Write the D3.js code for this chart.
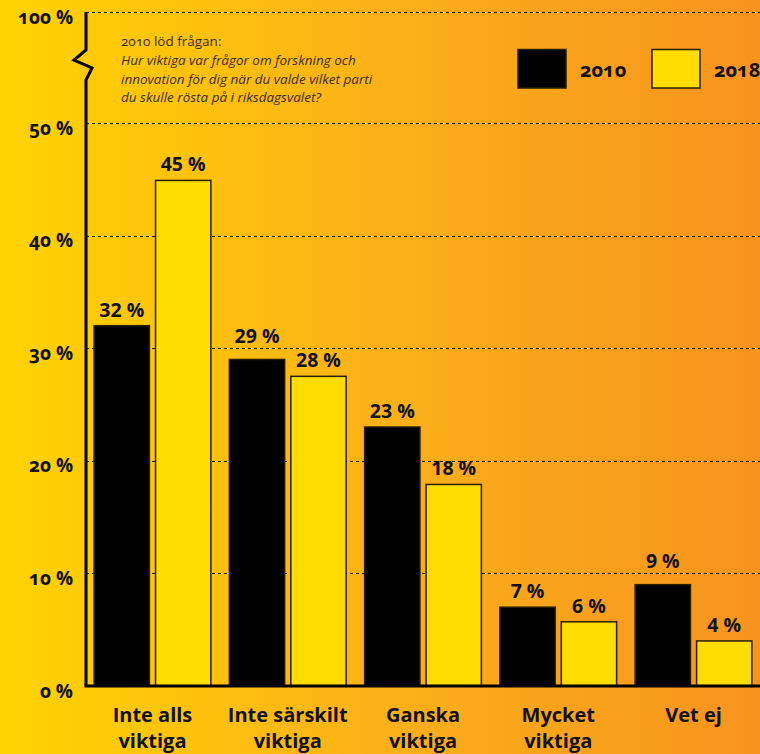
<!DOCTYPE html>
<html>
<head>
<meta charset="utf-8">
<script src="https://cdn.jsdelivr.net/npm/d3@7"></script>
<style>
  html, body { margin: 0; padding: 0; background: #fff; }
  svg { display: block; }
  text { font-family: "Open Sans", "Noto Sans", sans-serif; }
</style>
</head>
<body>
<svg id="chart" width="760" height="754"></svg>
<script>
// ---- data ----
const categories = [["Inte alls", "viktiga"], ["Inte särskilt", "viktiga"], ["Ganska", "viktiga"], ["Mycket", "viktiga"], ["Vet ej"]];
const seriesNames = ["2010", "2018"];
const values2010 = [32, 29, 23, 7, 9];
const values2018 = [44.9, 27.5, 17.9, 5.7, 4];
const yTicks = [0, 10, 20, 30, 40, 50, 100];
const gridTicks = [10, 20, 30, 40, 50, 100];
const noteTitle = "2010 löd frågan:";
const noteLines = ["Hur viktiga var frågor om forskning och", "innovation för dig när du valde vilket parti", "du skulle rösta på i riksdagsvalet?"];

const W = 760, H = 754;
const svg = d3.select("#chart");

// background gradient
const defs = svg.append("defs");
const grad = defs.append("linearGradient").attr("id", "bg").attr("x1", "0").attr("x2", "1").attr("y1", "0").attr("y2", "0");
grad.append("stop").attr("offset", "0").attr("stop-color", "#FFD300");
grad.append("stop").attr("offset", "0.5").attr("stop-color", "#FBB118");
grad.append("stop").attr("offset", "1").attr("stop-color", "#F7931E");
svg.append("rect").attr("width", W).attr("height", H).attr("fill", "url(#bg)");

const left = 86, right = 760, bottom = 686;
const catKeys = categories.map(c => c.join(" "));

// broken (polylinear) y scale
const y = d3.scaleLinear().domain([0, 50, 100]).range([bottom, 123, 12]);
const x0 = d3.scaleBand().domain(catKeys).range([left, right]).paddingInner(0.137).paddingOuter(0.06);
const x1 = d3.scaleBand().domain(seriesNames).range([0, x0.bandwidth()]).paddingInner(0.1);
const color = d3.scaleOrdinal().domain(seriesNames).range(["#000000", "#FFDD00"]);

// gridlines
svg.append("g").selectAll("line").data(gridTicks).join("line")
  .attr("x1", left).attr("x2", right)
  .attr("y1", d => Math.round(y(d)) + 0.5).attr("y2", d => Math.round(y(d)) + 0.5)
  .attr("stroke", "#1a1000").attr("stroke-width", 1).attr("stroke-dasharray", "3,3");

// y tick labels
svg.append("g").selectAll("text").data(yTicks).join("text")
  .attr("x", 73).attr("y", d => y(d) + 11.5)
  .attr("text-anchor", "end")
  .attr("font-size", 19).attr("font-weight", 700).attr("fill", "#111")
  .style("font-variant-numeric", "oldstyle-nums")
  .text(d => d + " %");

// bars
const data = catKeys.map((k, i) => ({ key: k, vals: [{ s: "2010", v: values2010[i] }, { s: "2018", v: values2018[i] }] }));
const groups = svg.append("g").selectAll("g").data(data).join("g")
  .attr("transform", d => `translate(${x0(d.key)},0)`);
groups.selectAll("rect").data(d => d.vals).join("rect")
  .attr("x", d => x1(d.s)).attr("width", x1.bandwidth())
  .attr("y", d => y(d.v)).attr("height", d => bottom - y(d.v))
  .attr("fill", d => color(d.s))
  .attr("stroke", "#2a1e00").attr("stroke-width", 1.5);

// value labels, lifted above a gridline when they would sit on it
function labelY(v) {
  let ly = y(v) - 9;
  gridTicks.forEach(g => {
    const gy = y(g);
    if (gy > ly - 12 && gy < ly + 2) ly = gy - 5.5;
  });
  return ly;
}
groups.selectAll("text").data(d => d.vals).join("text")
  .attr("x", d => x1(d.s) + x1.bandwidth() / 2)
  .attr("y", d => labelY(d.v))
  .attr("text-anchor", "middle")
  .attr("font-size", 19.5).attr("font-weight", 700).attr("fill", "#111")
  .text(d => Math.round(d.v) + " %");

// axes lines
const axis = svg.append("g").attr("stroke", "#000").attr("stroke-width", 3).attr("fill", "none");
axis.append("path").attr("d", d3.line()([[left, y(100)], [left, 50], [74, 60], [92, 68], [left, 80], [left, bottom]]))
  .attr("stroke-linejoin", "miter");
axis.append("line").attr("x1", left - 1.5).attr("x2", right).attr("y1", bottom).attr("y2", bottom);

// category labels
svg.append("g").selectAll("text").data(categories).join("text")
  .attr("x", (d, i) => x0(catKeys[i]) + x0.bandwidth() / 2)
  .attr("y", 722)
  .attr("text-anchor", "middle")
  .attr("font-size", 20).attr("font-weight", 700).attr("fill", "#111")
  .each(function(d) {
    const t = d3.select(this);
    d.forEach((line, j) => {
      t.append("tspan").attr("x", t.attr("x")).attr("dy", j === 0 ? 0 : 26).text(line);
    });
  });

// legend
const legend = svg.append("g");
const legX = [518, 652];
seriesNames.forEach((s, i) => {
  legend.append("rect").attr("x", legX[i]).attr("y", 49.5).attr("width", 48).attr("height", 38.5)
    .attr("fill", color(s)).attr("stroke", "#2a1e00").attr("stroke-width", 1.5);
  legend.append("text").attr("x", legX[i] + 62).attr("y", 77)
    .attr("font-size", 20).attr("font-weight", 700).attr("fill", "#111")
    .style("font-variant-numeric", "oldstyle-nums")
    .text(s);
});

// note
const note = svg.append("g").attr("fill", "#3a2c0c").attr("font-size", 13.5);
note.append("text").attr("x", 121).attr("y", 46).style("font-variant-numeric", "oldstyle-nums").text(noteTitle);
noteLines.forEach((l, i) => {
  note.append("text").attr("x", 121).attr("y", 65 + i * 18.5).attr("font-style", "italic").text(l);
});
</script>
</body>
</html>
